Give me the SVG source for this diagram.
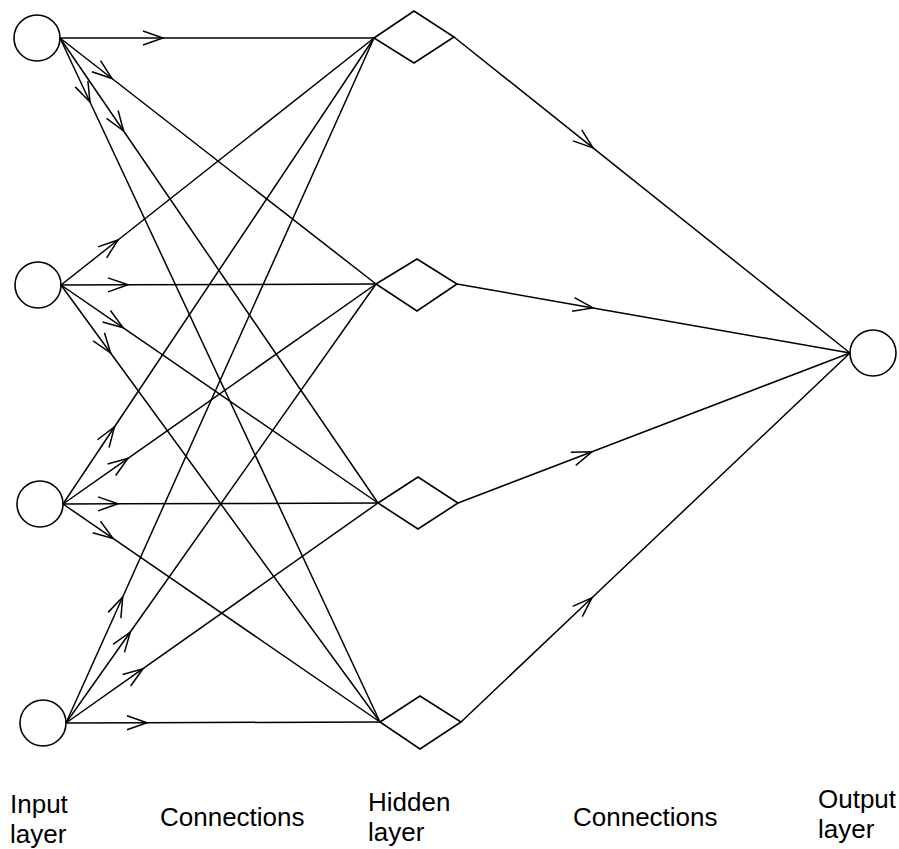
<svg xmlns="http://www.w3.org/2000/svg" width="899" height="849" viewBox="0 0 899 849">
  <style>
    .node { fill: none; stroke: #000; stroke-width: 1.6; }
    .edge { fill: none; stroke: #000; stroke-width: 1.5; marker-mid: url(#chev); }
    .lbl { font-family: "Liberation Sans", Arial, Helvetica, sans-serif; font-size: 26px; fill: #000; }
  </style>
  <defs>
    <!-- open chevron arrowhead placed on the middle vertex of each connector -->
    <marker id="chev" markerUnits="userSpaceOnUse" markerWidth="30" markerHeight="20" viewBox="-24 -10 30 20" refX="0" refY="0" orient="auto" overflow="visible">
      <path d="M -20 -7 L 0 0 L -20 7" fill="none" stroke="#000" stroke-width="1.5"/>
    </marker>
  </defs>

  <rect width="899" height="849" fill="#fff"/>

  <!-- connectors: input layer to hidden layer -->
  <g id="connectors">
    <path class="edge" d="M 60 38 L 163 38 L 374 38"/>
    <path class="edge" d="M 60 38 L 112 78.5 L 376 284"/>
    <path class="edge" d="M 60 38 L 123.6 131 L 378 503"/>
    <path class="edge" d="M 60 38 L 90 102 L 380 722"/>

    <path class="edge" d="M 61 285 L 118 240 L 374 38"/>
    <path class="edge" d="M 61 285 L 128 284.8 L 376 284"/>
    <path class="edge" d="M 61 285 L 123 327.6 L 378 503"/>
    <path class="edge" d="M 61 285 L 110.6 353 L 380 722"/>

    <path class="edge" d="M 63 504 L 114.4 427 L 374 38"/>
    <path class="edge" d="M 63 504 L 128 458.3 L 376 284"/>
    <path class="edge" d="M 63 504 L 118 503.8 L 378 503"/>
    <path class="edge" d="M 63 504 L 113 538.4 L 380 722"/>

    <path class="edge" d="M 66 723 L 122.7 597 L 374 38"/>
    <path class="edge" d="M 66 723 L 130.3 632 L 376 284"/>
    <path class="edge" d="M 66 723 L 143 668.7 L 378 503"/>
    <path class="edge" d="M 66 723 L 147 722.7 L 380 722"/>

    <!-- hidden layer to output -->
    <path class="edge" d="M 454 37 L 593 147.9 L 850 353"/>
    <path class="edge" d="M 457 284 L 593 307.9 L 850 353"/>
    <path class="edge" d="M 458 503 L 592 451.7 L 850 353"/>
    <path class="edge" d="M 461 722 L 592 597.7 L 850 353"/>
  </g>

  <!-- input layer -->
  <g id="in1"><circle class="node" cx="37" cy="38" r="23"/></g>
  <g id="in2"><circle class="node" cx="38" cy="285" r="23"/></g>
  <g id="in3"><circle class="node" cx="40" cy="504" r="23"/></g>
  <g id="in4"><circle class="node" cx="43" cy="723" r="23"/></g>

  <!-- hidden layer -->
  <g id="hid1"><polygon class="node" points="374,38 414,11 454,37 414,63"/></g>
  <g id="hid2"><polygon class="node" points="376,284 417,259 457,284 417,311"/></g>
  <g id="hid3"><polygon class="node" points="378,503 418,477 458,503 418,529"/></g>
  <g id="hid4"><polygon class="node" points="380,722 420,696 461,722 420,749"/></g>

  <!-- output layer -->
  <g id="out1"><circle class="node" cx="873" cy="353" r="23"/></g>

  <!-- captions -->
  <g id="labels">
    <text class="lbl" x="10" y="813">Input</text>
    <text class="lbl" x="10" y="843">layer</text>
    <text class="lbl" x="160" y="826">Connections</text>
    <text class="lbl" x="368" y="811">Hidden</text>
    <text class="lbl" x="368" y="841">layer</text>
    <text class="lbl" x="573" y="826">Connections</text>
    <text class="lbl" x="818" y="808">Output</text>
    <text class="lbl" x="818" y="838">layer</text>
  </g>
</svg>
